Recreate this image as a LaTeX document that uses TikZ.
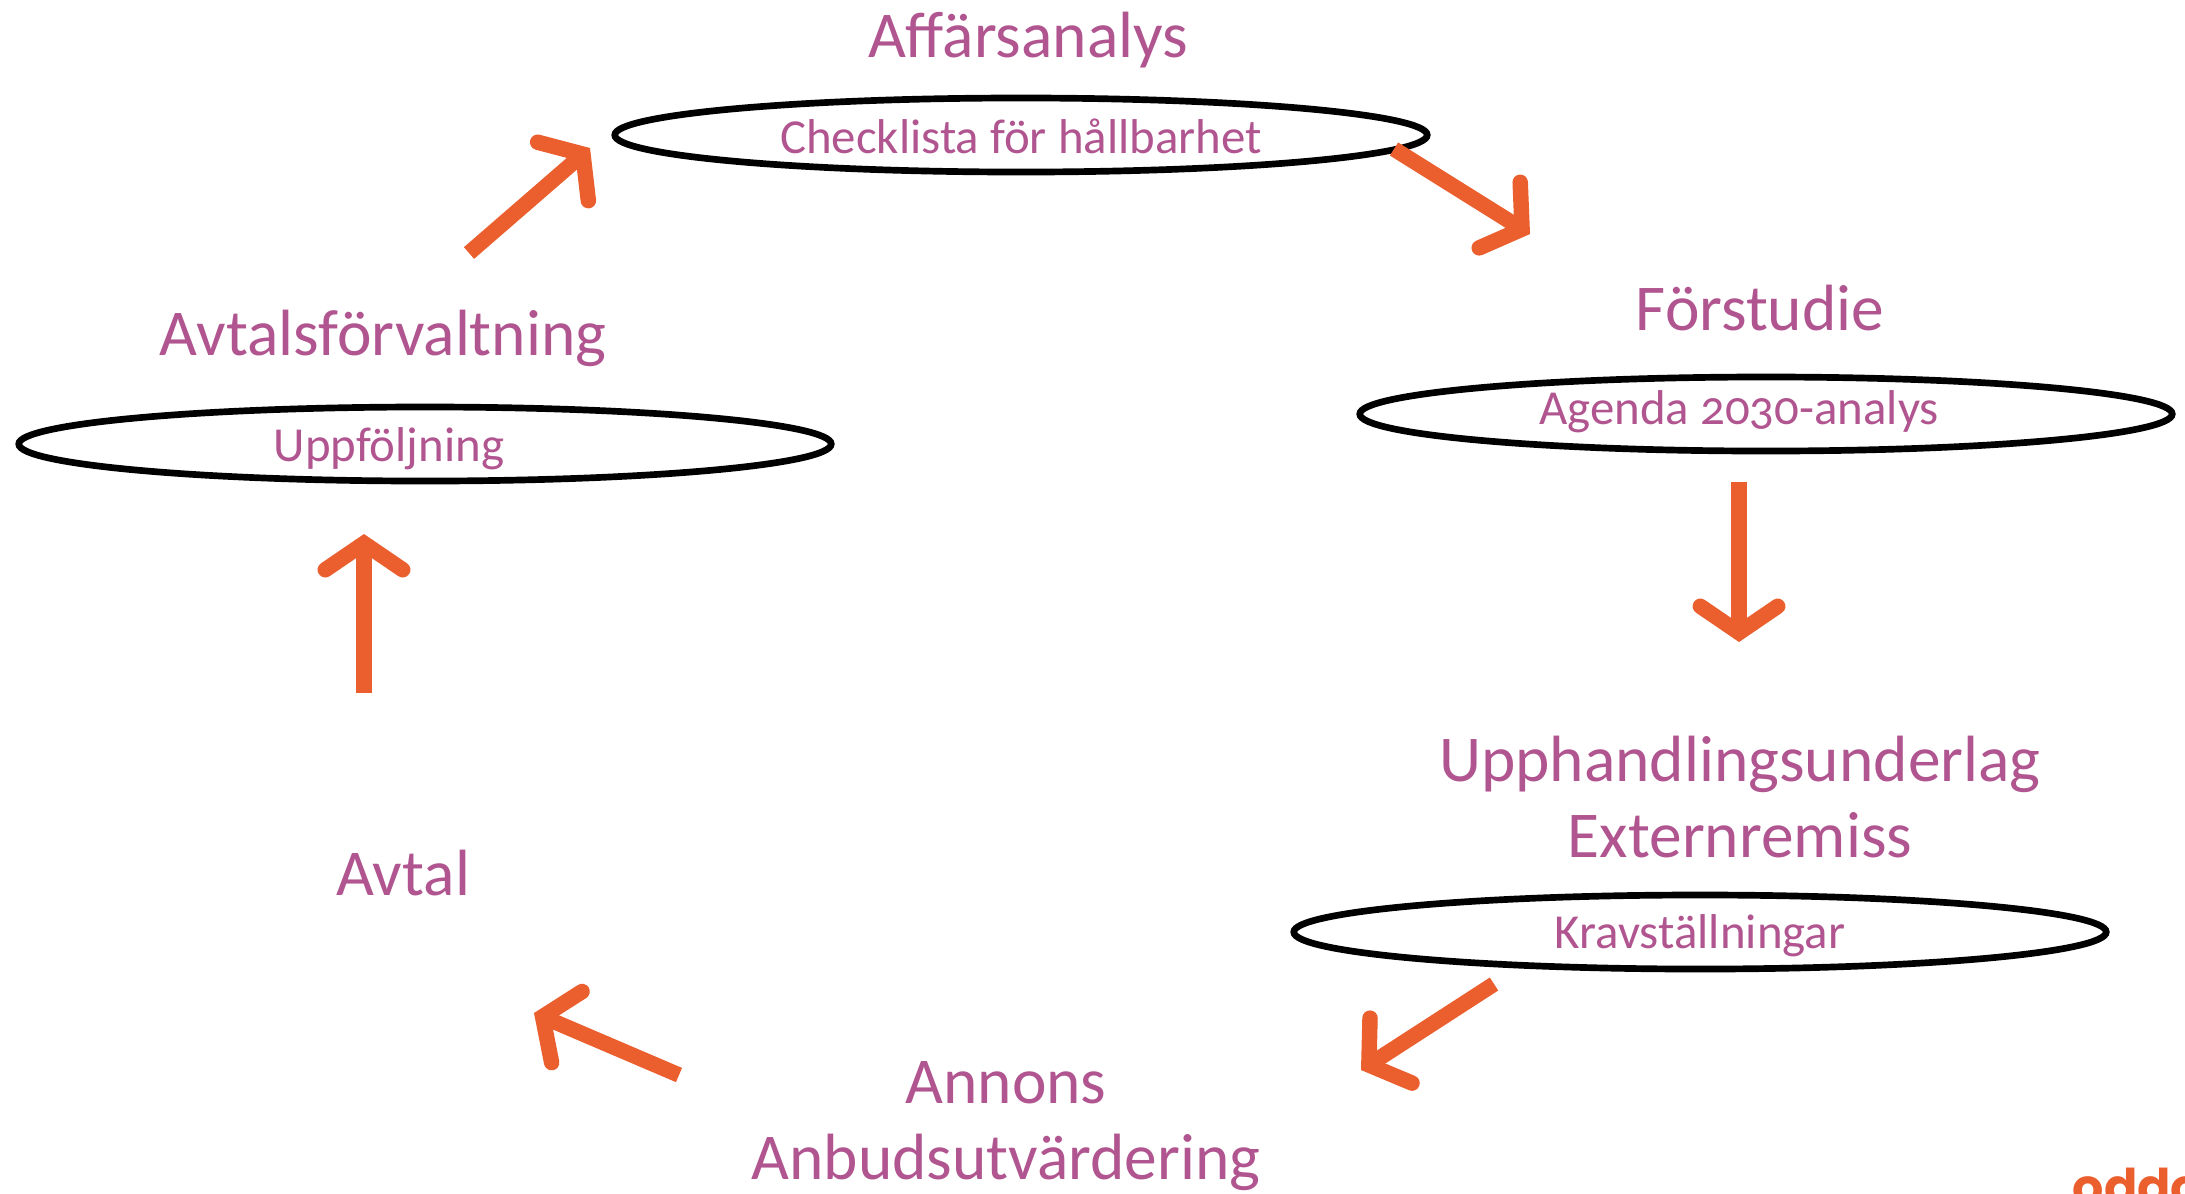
\documentclass[tikz,border=0pt]{standalone}
\usepackage{fontspec}
\setmainfont[Numbers=OldStyle]{Carlito}
\newfontfamily\logofont{Poppins}
\usetikzlibrary{arrows.meta,shapes.geometric}
\definecolor{stagepurple}{HTML}{B0558F}
\definecolor{flecheorange}{HTML}{EB5E2E}
\tikzset{
  stagetitle/.style={text=stagepurple, align=center, font=\fontsize{18.6}{21.6}\selectfont},
  sublabel/.style={text=stagepurple, font=\fontsize{13.9}{16}\selectfont},
  ring/.style={draw, ellipse, line width=1.9pt, minimum width=8.12cm, minimum height=0.74cm, inner sep=0pt},
  flowarrow/.style={draw=flecheorange, line width=4.4pt, -{Straight Barb[length=7.5pt,width=22pt,line cap=round]}}
}
\begin{document}
\begin{tikzpicture}[x=0.01cm,y=-0.01cm]
\useasboundingbox (0,0) rectangle (2185,1193);
\begin{scope}
\node[ring] (r1) at (1021,135) {};
\node[ring] (r2) at (1766,414) {};
\node[ring] (r3) at (425,444) {};
\node[ring] (r4) at (1700,932) {};
\node[sublabel] (l1) at (1021,136) {Checklista för hållbarhet};
\node[sublabel] (l2) at (1739,412) {Agenda 2030-analys};
\node[sublabel] (l3) at (389,449) {Uppföljning};
\node[sublabel] (l4) at (1700,936) {Kravställningar};
\node[stagetitle] (t1) at (1028,40) {Affärsanalys};
\node[stagetitle] (t2) at (1760,308) {Förstudie};
\node[stagetitle] (t3) at (1740,797) {Upphandlingsunderlag\\Externremiss};
\node[stagetitle] (t4) at (1006,1126) {Annons\\Anbudsutvärdering};
\node[stagetitle] (t5) at (403,873) {Avtal};
\node[stagetitle] (t6) at (383,338) {Avtalsförvaltning};
\coordinate (a1s) at (469,253);
\coordinate (a1e) at (590,148);
\coordinate (a2s) at (1394,149);
\coordinate (a2e) at (1530,234);
\coordinate (a3s) at (1739,482);
\coordinate (a3e) at (1739,642);
\coordinate (a4s) at (1494,984);
\coordinate (a4e) at (1361,1070);
\coordinate (a5s) at (679,1075);
\coordinate (a5e) at (534,1013);
\coordinate (a6s) at (364,693);
\coordinate (a6e) at (364,534);
\path[flowarrow] (a1s) -- (a1e);
\path[flowarrow] (a2s) -- (a2e);
\path[flowarrow] (a3s) -- (a3e);
\path[flowarrow] (a4s) -- (a4e);
\path[flowarrow] (a5s) -- (a5e);
\path[flowarrow] (a6s) -- (a6e);
\node[anchor=base west, inner sep=0pt, text=flecheorange, font=\logofont\bfseries\fontsize{14}{14}\selectfont] (logo) at (2072,1204) {oddo};
\end{scope}
\end{tikzpicture}
\end{document}
